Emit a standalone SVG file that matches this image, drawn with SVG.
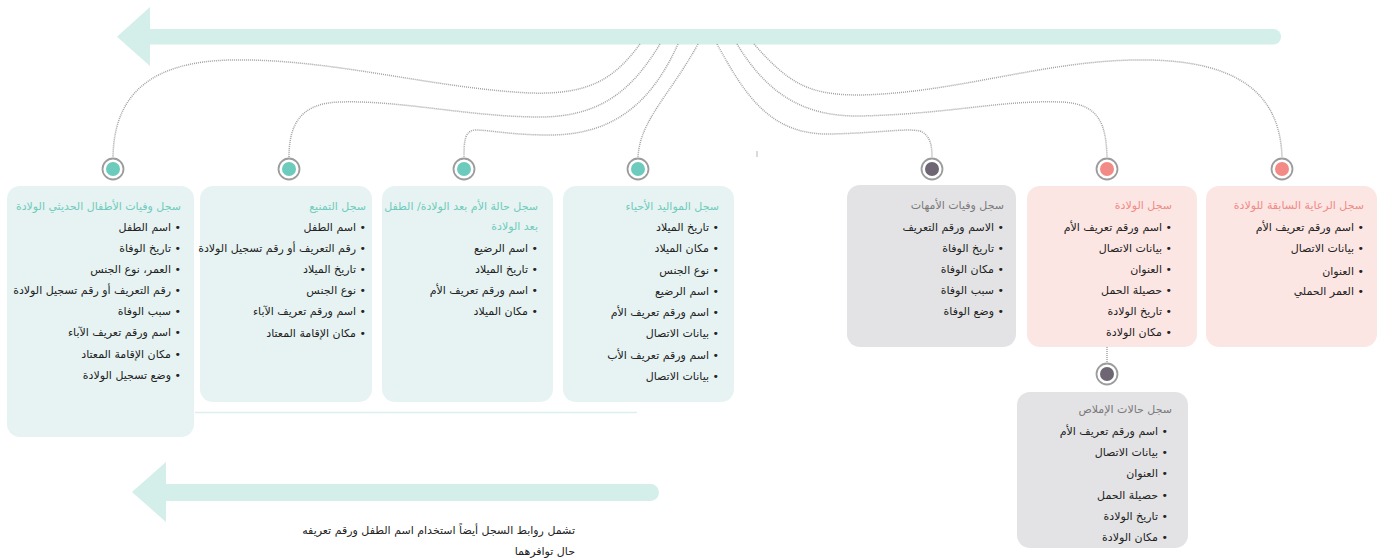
<svg xmlns="http://www.w3.org/2000/svg" width="1383" height="560" viewBox="0 0 1383 560">
<style>
.bg{fill:#ffffff}
.arrow{fill:#d4eeea}
.card-t{fill:#e6f3f2}
.card-g{fill:#e3e3e5}
.card-p{fill:#fce6e4}
.conn{fill:none;stroke:#a2a2a2;stroke-width:1.5;stroke-dasharray:1 1}
.ring{fill:#ffffff;stroke:#9c9c9c;stroke-width:1.8}
.dot-t{fill:#6ccbbd}
.dot-g{fill:#6e6773}
.dot-p{fill:#f28b86}
text{font-family:"DejaVu Sans",sans-serif;font-size:11px;direction:rtl;text-anchor:start}
.ti-t{fill:#6fcbbd}
.ti-g{fill:#7a7a7a}
.ti-p{fill:#f08b85}
.it{fill:#222222}
</style>
<rect class="bg" x="0" y="0" width="1383" height="560"/>

<g id="top-arrow">
<rect class="arrow" x="140" y="29" width="1141" height="15.5" rx="7.5"/>
<polygon class="arrow" points="117,36.7 150,7 150,66"/>
</g>

<g id="bottom-arrow">
<rect class="arrow" x="155" y="484" width="504" height="17" rx="8.5"/>
<polygon class="arrow" points="132,492 166,462 166,522"/>
</g>

<line x1="195" y1="412.5" x2="637" y2="412.5" stroke="#dcefed" stroke-width="1.5"/>

<g id="connectors">
<path class="conn" d="M640,44 C615,78 590,95 530,93 C430,88 330,58 230,60 C150,62 114,95 113,157"/>
<path class="conn" d="M660,44 C635,85 605,117 540,117 C470,117 400,100 340,102 C300,103 289,125 289,157"/>
<path class="conn" d="M678,44 C655,95 620,135 550,135 C510,135 490,130 475,130 C465,131 464,140 464,157"/>
<path class="conn" d="M698,44 C670,95 640,120 638,157"/>
<path class="conn" d="M717,44 C745,95 770,135 830,134 C880,133 905,128 920,131 C930,135 932,145 932,157"/>
<path class="conn" d="M737,44 C765,90 800,117 860,116 C950,114 1000,100 1060,102 C1100,103 1106,125 1107,157"/>
<path class="conn" d="M754,44 C790,85 810,95 860,95 C960,93 1050,58 1150,60 C1240,62 1280,95 1282,157"/>
<path class="conn" d="M1107,347 L1107,362"/>
<line x1="757" y1="151" x2="757" y2="157" stroke="#b5b5b5" stroke-width="1"/>
</g>

<g id="dot1"><circle class="ring" cx="113" cy="169" r="10.5"/><circle class="dot-t" cx="113" cy="169" r="7"/></g>
<g id="dot2"><circle class="ring" cx="289" cy="169" r="10.5"/><circle class="dot-t" cx="289" cy="169" r="7"/></g>
<g id="dot3"><circle class="ring" cx="464" cy="169" r="10.5"/><circle class="dot-t" cx="464" cy="169" r="7"/></g>
<g id="dot4"><circle class="ring" cx="638" cy="169" r="10.5"/><circle class="dot-t" cx="638" cy="169" r="7"/></g>
<g id="dot5"><circle class="ring" cx="932" cy="169" r="10.5"/><circle class="dot-g" cx="932" cy="169" r="7"/></g>
<g id="dot6"><circle class="ring" cx="1107" cy="169" r="10.5"/><circle class="dot-p" cx="1107" cy="169" r="7"/></g>
<g id="dot7"><circle class="ring" cx="1282" cy="169" r="10.5"/><circle class="dot-p" cx="1282" cy="169" r="7"/></g>
<g id="dot8"><circle class="ring" cx="1107" cy="374" r="10.5"/><circle class="dot-g" cx="1107" cy="374" r="7"/></g>

<g id="card-neonatal-deaths">
<rect class="card-t" x="7" y="186" width="187" height="251" rx="13"/>
<text class="ti-t" x="181" y="210">سجل وفيات الأطفال الحديثي الولادة</text>
<text class="it" x="181" y="231">• اسم الطفل</text>
<text class="it" x="181" y="252">• تاريخ الوفاة</text>
<text class="it" x="181" y="273">• العمر، نوع الجنس</text>
<text class="it" x="181" y="294">• رقم التعريف أو رقم تسجيل الولادة</text>
<text class="it" x="181" y="315">• سبب الوفاة</text>
<text class="it" x="181" y="336">• اسم ورقم تعريف الآباء</text>
<text class="it" x="181" y="358">• مكان الإقامة المعتاد</text>
<text class="it" x="181" y="379">• وضع تسجيل الولادة</text>
</g>

<g id="card-immunization">
<rect class="card-t" x="200" y="186" width="172" height="216" rx="13"/>
<text class="ti-t" x="366" y="210">سجل التمنيع</text>
<text class="it" x="366" y="231">• اسم الطفل</text>
<text class="it" x="366" y="252">• رقم التعريف أو رقم تسجيل الولادة</text>
<text class="it" x="366" y="273">• تاريخ الميلاد</text>
<text class="it" x="366" y="294">• نوع الجنس</text>
<text class="it" x="366" y="315">• اسم ورقم تعريف الآباء</text>
<text class="it" x="366" y="337">• مكان الإقامة المعتاد</text>
</g>

<g id="card-postnatal">
<rect class="card-t" x="382" y="186" width="171" height="216" rx="13"/>
<text class="ti-t" x="538" y="210">سجل حالة الأم بعد الولادة/ الطفل</text>
<text class="ti-t" x="538" y="230">بعد الولادة</text>
<text class="it" x="538" y="252">• اسم الرضيع</text>
<text class="it" x="538" y="273">• تاريخ الميلاد</text>
<text class="it" x="538" y="294">• اسم ورقم تعريف الأم</text>
<text class="it" x="538" y="315">• مكان الميلاد</text>
</g>

<g id="card-live-births">
<rect class="card-t" x="563" y="186" width="171" height="216" rx="13"/>
<text class="ti-t" x="719" y="210">سجل المواليد الأحياء</text>
<text class="it" x="719" y="231">• تاريخ الميلاد</text>
<text class="it" x="719" y="252">• مكان الميلاد</text>
<text class="it" x="719" y="274">• نوع الجنس</text>
<text class="it" x="719" y="295">• اسم الرضيع</text>
<text class="it" x="719" y="316">• اسم ورقم تعريف الأم</text>
<text class="it" x="719" y="337">• بيانات الاتصال</text>
<text class="it" x="719" y="359">• اسم ورقم تعريف الأب</text>
<text class="it" x="719" y="380">• بيانات الاتصال</text>
</g>

<g id="card-maternal-deaths">
<rect class="card-g" x="847" y="185" width="169" height="162" rx="13"/>
<text class="ti-g" x="1004" y="209">سجل وفيات الأمهات</text>
<text class="it" x="1004" y="231">• الاسم ورقم التعريف</text>
<text class="it" x="1004" y="252">• تاريخ الوفاة</text>
<text class="it" x="1004" y="273">• مكان الوفاة</text>
<text class="it" x="1004" y="294">• سبب الوفاة</text>
<text class="it" x="1004" y="315">• وضع الوفاة</text>
</g>

<g id="card-births">
<rect class="card-p" x="1027" y="186" width="170" height="161" rx="13"/>
<text class="ti-p" x="1172" y="209">سجل الولادة</text>
<text class="it" x="1172" y="231">• اسم ورقم تعريف الأم</text>
<text class="it" x="1172" y="252">• بيانات الاتصال</text>
<text class="it" x="1172" y="273">• العنوان</text>
<text class="it" x="1172" y="294">• حصيلة الحمل</text>
<text class="it" x="1172" y="315">• تاريخ الولادة</text>
<text class="it" x="1172" y="336">• مكان الولادة</text>
</g>

<g id="card-antenatal">
<rect class="card-p" x="1206" y="186" width="171" height="161" rx="13"/>
<text class="ti-p" x="1364" y="209">سجل الرعاية السابقة للولادة</text>
<text class="it" x="1364" y="231">• اسم ورقم تعريف الأم</text>
<text class="it" x="1364" y="252">• بيانات الاتصال</text>
<text class="it" x="1364" y="275">• العنوان</text>
<text class="it" x="1364" y="295">• العمر الحملي</text>
</g>

<g id="card-stillbirths">
<rect class="card-g" x="1017" y="392" width="171" height="156" rx="13"/>
<text class="ti-g" x="1172" y="413">سجل حالات الإملاص</text>
<text class="it" x="1168" y="435">• اسم ورقم تعريف الأم</text>
<text class="it" x="1168" y="456">• بيانات الاتصال</text>
<text class="it" x="1168" y="477">• العنوان</text>
<text class="it" x="1168" y="499">• حصيلة الحمل</text>
<text class="it" x="1168" y="520">• تاريخ الولادة</text>
<text class="it" x="1168" y="541">• مكان الولادة</text>
</g>

<g id="note">
<text class="it" x="575" y="534">تشمل روابط السجل أيضاً استخدام اسم الطفل ورقم تعريفه</text>
<text class="it" x="575" y="555">حال توافرهما</text>
</g>
</svg>
